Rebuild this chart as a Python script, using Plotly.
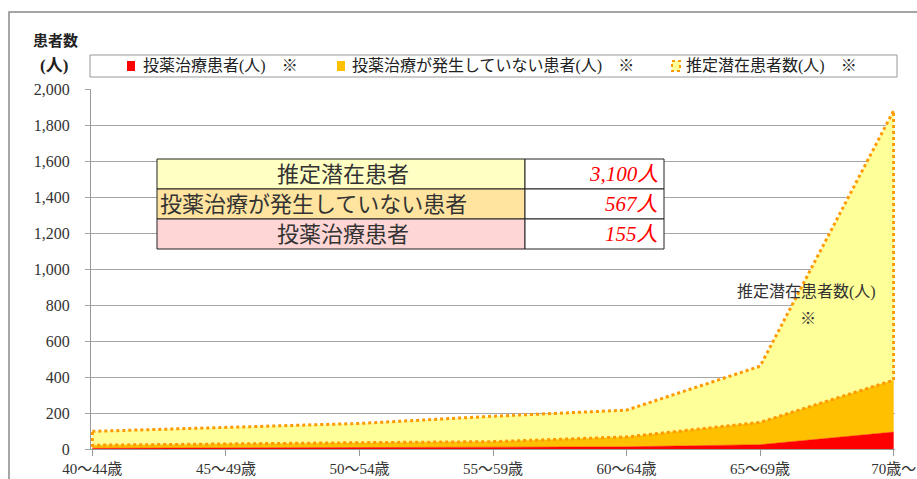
import plotly.graph_objects as go
import numpy as np

# ---------------- data ----------------
categories = ["40～44歳", "45～49歳", "50～54歳", "55～59歳", "60～64歳", "65～69歳", "70歳～"]
treated = [4, 5, 7, 9, 12, 24, 94]                  # 投薬治療患者(人)
untreated = [17, 22, 28, 32, 55, 124, 289]          # 投薬治療が発生していない患者(人)
potential_total = [98, 122, 142, 182, 216, 460, 1880]  # 推定潜在患者数(人) (total)
y_tick_values = [0, 200, 400, 600, 800, 1000, 1200, 1400, 1600, 1800, 2000]
y_tick_labels = ["0", "200", "400", "600", "800", "1,000", "1,200", "1,400", "1,600", "1,800", "2,000"]
legend_labels = ["投薬治療患者(人)　※", "投薬治療が発生していない患者(人)　※", "推定潜在患者数(人)　※"]
table_labels = ["推定潜在患者", "投薬治療が発生していない患者", "投薬治療患者"]
table_values = ["3,100人", "567人", "155人"]

treated_a = np.array(treated)
untreated_a = np.array(untreated)
total_a = np.array(potential_total)
potential_extra = (total_a - treated_a - untreated_a).tolist()
lower_cum = (treated_a + untreated_a).tolist()

RED = "#FF0000"
ORANGE = "#FFC000"
YELLOW = "#FFFF99"
DOT = "#FF9900"
FONT = "Liberation Serif, Noto Sans CJK JP, serif"

W, H = 917, 479
L, R, T, B = 91, 22, 89, 30
PW = W - L - R
PH = H - T - B


def px(x):
    return (x - L) / PW


def py(y):
    return (H - B - y) / PH


def note(text, x, y, size, color="#222", xanchor="center"):
    return dict(text=text, xref="paper", yref="paper", x=px(x), y=py(y),
                xanchor=xanchor, yanchor="middle", showarrow=False,
                font=dict(size=size, color=color, family=FONT))


fig = go.Figure()
fig.add_trace(go.Scatter(x=categories, y=treated, stackgroup="a", mode="lines",
                         line=dict(width=0.5, color=RED), fillcolor=RED,
                         name=legend_labels[0], showlegend=False))
fig.add_trace(go.Scatter(x=categories, y=untreated, stackgroup="a", mode="lines",
                         line=dict(width=0.5, color=ORANGE), fillcolor=ORANGE,
                         name=legend_labels[1], showlegend=False))
fig.add_trace(go.Scatter(x=categories, y=potential_extra, stackgroup="a", mode="lines",
                         line=dict(width=0, color=YELLOW), fillcolor=YELLOW,
                         name=legend_labels[2], showlegend=False))
# dotted border around the potential-patient area
outline_x = categories + [categories[-1]] + categories[::-1] + [categories[0]]
outline_y = potential_total + [lower_cum[-1]] + lower_cum[::-1] + [potential_total[0]]
fig.add_trace(go.Scatter(x=outline_x, y=outline_y, mode="lines",
                         line=dict(color=DOT, width=3, dash="dot"),
                         hoverinfo="skip", showlegend=False))

shapes = []
annotations = []

# outer chart border
shapes.append(dict(type="rect", xref="paper", yref="paper",
                   x0=px(9), x1=px(960), y0=py(12), y1=py(520),
                   line=dict(color="#888888", width=1.5), fillcolor="rgba(0,0,0,0)", layer="below"))

# y-axis title
annotations.append(note("<b>患者数</b>", 55, 40, 15))
annotations.append(note("<b>(人)</b>", 54, 65, 17))

# legend box
shapes.append(dict(type="rect", xref="paper", yref="paper", x0=px(90), x1=px(897), y0=py(55), y1=py(77),
                   line=dict(color="#999999", width=1), fillcolor="white"))
legend_marks = [(127, RED, None), (337, ORANGE, None), (672, YELLOW, DOT)]
legend_text_x = [141, 350, 684]
for (mx, col, border), tx, lab in zip(legend_marks, legend_text_x, legend_labels):
    shapes.append(dict(type="rect", xref="paper", yref="paper", x0=px(mx), x1=px(mx + 8),
                       y0=py(61), y1=py(71), fillcolor=col,
                       line=dict(color=border if border else col, width=2 if border else 0,
                                 dash="dot" if border else "solid")))
    annotations.append(note(lab, tx, 66, 16, xanchor="left"))

# info table
row_tops = [159, 189, 219]
row_bottoms = [189, 219, 249]
row_fills = ["#FFFFC4", "#FFE4A0", "#FFD6D6"]
tx0, tx_mid, tx1 = 157, 525, 664
for i in range(3):
    shapes.append(dict(type="rect", xref="paper", yref="paper", x0=px(tx0), x1=px(tx_mid),
                       y0=py(row_tops[i]), y1=py(row_bottoms[i]), fillcolor=row_fills[i],
                       line=dict(color="#222", width=1)))
    shapes.append(dict(type="rect", xref="paper", yref="paper", x0=px(tx_mid), x1=px(tx1),
                       y0=py(row_tops[i]), y1=py(row_bottoms[i]), fillcolor="white",
                       line=dict(color="#222", width=1)))
    yc = (row_tops[i] + row_bottoms[i]) / 2
    if i == 1:
        annotations.append(note(table_labels[i], 158, yc, 22, "#333", xanchor="left"))
    else:
        annotations.append(note(table_labels[i], 343, yc, 22, "#333"))
    annotations.append(note("<i>" + table_values[i] + "</i>", 660, yc, 21, "#FF0000", xanchor="right"))

# series label inside chart
annotations.append(note("推定潜在患者数(人)", 806, 292, 16, "#333"))
annotations.append(note("※", 808, 318, 16, "#333"))

fig.update_layout(
    width=W, height=H,
    margin=dict(l=L, r=R, t=T, b=B, autoexpand=False),
    paper_bgcolor="white", plot_bgcolor="white",
    font=dict(family=FONT, size=15, color="#333"),
    showlegend=False,
    shapes=shapes, annotations=annotations,
    xaxis=dict(type="category", range=[-0.01, 6.01], showgrid=False, automargin=False,
               showline=True, linecolor="#999999", linewidth=1,
               ticks="outside", ticklen=6, tickcolor="#999999",
               tickfont=dict(size=15, color="#333", family=FONT), ticklabelstandoff=0),
    yaxis=dict(range=[0, 2000], tickvals=y_tick_values, ticktext=y_tick_labels, automargin=False,
               showgrid=True, gridcolor="#A6A6A6", gridwidth=1,
               showline=True, linecolor="#999999", linewidth=1,
               ticks="outside", ticklen=5, tickcolor="#A6A6A6",
               tickfont=dict(size=16, color="#333", family=FONT), ticklabelstandoff=12,
               zeroline=False),
)

fig.write_html("out.html", config={"displayModeBar": False},
               post_script="document.body.style.margin='0';document.body.style.overflow='hidden';")
